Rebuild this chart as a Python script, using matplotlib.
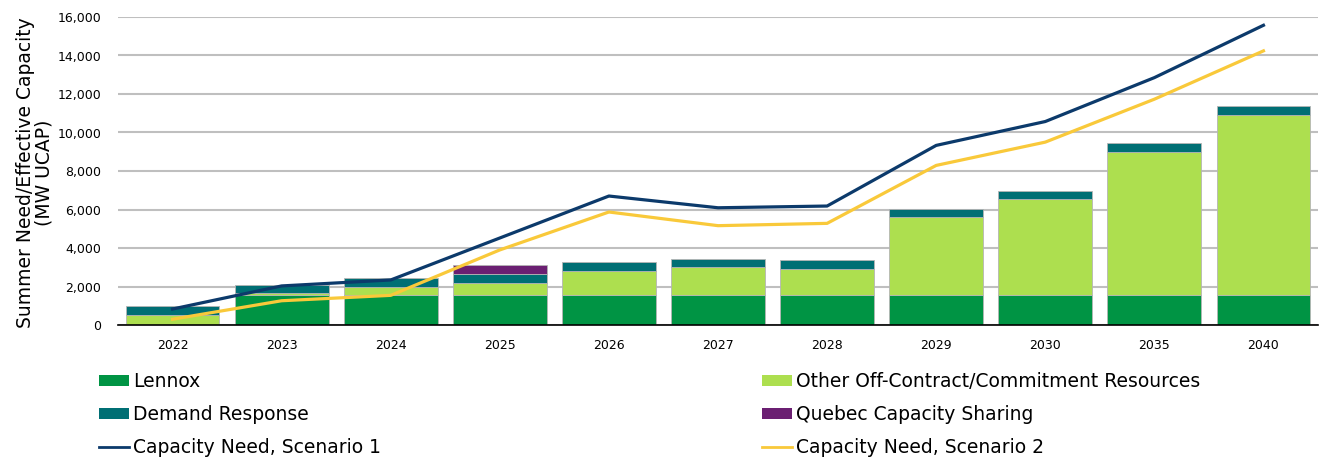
import matplotlib
matplotlib.use("Agg")
import matplotlib.pyplot as plt
import numpy as np
from matplotlib.patches import Patch
from matplotlib.lines import Line2D

years = ["2022", "2023", "2024", "2025", "2026", "2027", "2028", "2029", "2030", "2035", "2040"]
lennox = [0, 1570, 1570, 1570, 1570, 1570, 1570, 1570, 1570, 1570, 1570]
other = [500, 110, 380, 590, 1260, 1420, 1330, 4030, 4950, 7400, 9360]
demand_response = [490, 400, 470, 470, 440, 440, 490, 450, 460, 460, 430]
quebec = [0, 0, 0, 500, 0, 0, 0, 0, 0, 0, 0]
scenario1 = [830, 2030, 2340, 4520, 6700, 6090, 6180, 9330, 10570, 12850, 15570]
scenario2 = [300, 1260, 1540, 3900, 5870, 5160, 5280, 8290, 9500, 11730, 14240]

c_lennox = "#009444"
c_other = "#addf4f"
c_dr = "#006f74"
c_quebec = "#6b1f72"
c_s1 = "#0c3a6b"
c_s2 = "#f9c93a"

plt.rcParams['font.family'] = ['DejaVu Sans']
fig = plt.figure(figsize=(13.19, 4.61), dpi=100)
ax = fig.add_axes([118/1319, 1-325/461, (1318-118)/1319, (325-17)/461])

x = np.arange(len(years))
w = 0.86
ec = "#b5b5b5"
ax.bar(x, lennox, w, color=c_lennox, edgecolor=ec, linewidth=0.6, zorder=2)
bot = np.array(lennox, dtype=float)
ax.bar(x, other, w, bottom=bot, color=c_other, edgecolor=ec, linewidth=0.6, zorder=2)
bot += np.array(other)
ax.bar(x, demand_response, w, bottom=bot, color=c_dr, edgecolor=ec, linewidth=0.6, zorder=2)
bot += np.array(demand_response)
q = np.array(quebec, dtype=float)
mask = q > 0
ax.bar(x[mask], q[mask], w, bottom=bot[mask], color=c_quebec, edgecolor=ec, linewidth=0.6, zorder=2)

ax.plot(x, scenario1, color=c_s1, lw=2.3, zorder=3, solid_joinstyle='round')
ax.plot(x, scenario2, color=c_s2, lw=2.3, zorder=3, solid_joinstyle='round')

ax.set_xlim(-0.5, len(years) - 0.5)
ax.set_ylim(0, 16000)
ax.set_yticks(np.arange(0, 16001, 2000))
ax.set_yticklabels([f"{v:,}" for v in range(0, 16001, 2000)], fontsize=9)
ax.set_xticks(x)
ax.set_xticklabels(years, fontsize=9)
ax.tick_params(axis='x', length=0, pad=10)
ax.tick_params(axis='y', length=0, pad=12)
ax.grid(axis='y', color="#bfbfbf", lw=1.5, zorder=0)
ax.set_axisbelow(True)
for s in ['top', 'right', 'left']:
    ax.spines[s].set_visible(False)
ax.spines['bottom'].set_color('black')
ax.spines['bottom'].set_linewidth(1.2)
ax.spines['bottom'].set_zorder(4)

fig.text(35/1319, 1-173/461, "Summer Need/Effective Capacity\n(MW UCAP)", rotation=90,
         ha='center', va='center', fontsize=13.5, linespacing=1.0)

fs = 13.5
left_handles = [Patch(facecolor=c_lennox), Patch(facecolor=c_dr), Line2D([], [], color=c_s1, lw=2)]
left_labels = ["Lennox", "Demand Response", "Capacity Need, Scenario 1"]
right_handles = [Patch(facecolor=c_other), Patch(facecolor=c_quebec), Line2D([], [], color=c_s2, lw=2)]
right_labels = ["Other Off-Contract/Commitment Resources", "Quebec Capacity Sharing", "Capacity Need, Scenario 2"]
common = dict(loc='upper left', frameon=False, fontsize=fs, handlelength=1.6, handleheight=0.55,
              handletextpad=0.2, labelspacing=0.75, borderpad=0, borderaxespad=0)
fig.legend(left_handles, left_labels, bbox_to_anchor=(99/1319, 1-372/461), **common)
fig.legend(right_handles, right_labels, bbox_to_anchor=(762/1319, 1-372/461), **common)

fig.savefig("out.png", dpi=100)
